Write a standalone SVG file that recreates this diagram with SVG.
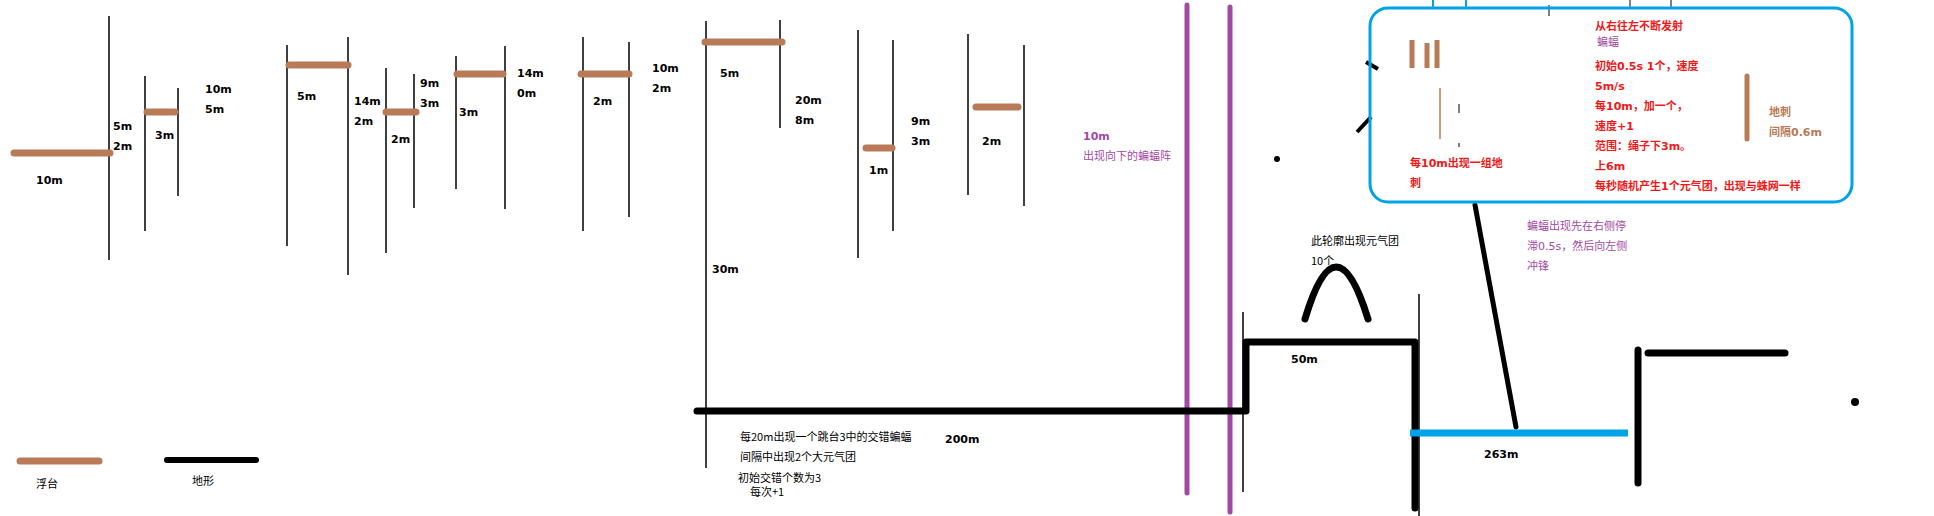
<svg xmlns="http://www.w3.org/2000/svg" width="1934" height="516" viewBox="0 0 1934 516">
<style>
.bg{fill:#fff}
.v{stroke:#000;stroke-width:1.5;fill:none}
.plat{stroke:#B97A57;stroke-width:7;stroke-linecap:round;fill:none}
.terr{stroke:#000;stroke-width:7;stroke-linecap:round;stroke-linejoin:round;fill:none}
.bat{stroke:#A349A4;stroke-width:5;stroke-linecap:round;fill:none}
.lb{font-family:"DejaVu Sans","Noto Sans CJK SC",sans-serif;font-size:11px;font-weight:bold;fill:#000}
.cn{font-family:"Noto Sans CJK SC",sans-serif;font-size:11px;fill:#000}
.red{font-family:"DejaVu Sans","Noto Sans CJK SC",sans-serif;font-size:11px;font-weight:bold;fill:#F01818}
.pur{font-family:"DejaVu Sans","Noto Sans CJK SC",sans-serif;font-size:11px;fill:#A349A4}
.pb{font-family:"DejaVu Sans","Noto Sans CJK SC",sans-serif;font-size:11px;font-weight:bold;fill:#A349A4}
.brn{font-family:"DejaVu Sans","Noto Sans CJK SC",sans-serif;font-size:11px;font-weight:bold;fill:#B97A57}
</style>
<rect class="bg" x="0" y="0" width="1934" height="516"/>

<g id="connectors">
<line class="v" x1="109" y1="16" x2="109" y2="260"/>
<line class="v" x1="145" y1="76" x2="145" y2="231"/>
<line class="v" x1="178" y1="88" x2="178" y2="196"/>
<line class="v" x1="287" y1="45" x2="287" y2="246"/>
<line class="v" x1="348" y1="37" x2="348" y2="275"/>
<line class="v" x1="386" y1="68" x2="386" y2="253"/>
<line class="v" x1="414" y1="74" x2="414" y2="208"/>
<line class="v" x1="456" y1="56" x2="456" y2="189"/>
<line class="v" x1="505" y1="46" x2="505" y2="209"/>
<line class="v" x1="583" y1="37" x2="583" y2="231"/>
<line class="v" x1="629" y1="42" x2="629" y2="217"/>
<line class="v" x1="706" y1="21" x2="706" y2="468"/>
<line class="v" x1="780" y1="20" x2="780" y2="128"/>
<line class="v" x1="858" y1="30" x2="858" y2="258"/>
<line class="v" x1="893" y1="40" x2="893" y2="231"/>
<line class="v" x1="968" y1="34" x2="968" y2="195"/>
<line class="v" x1="1024" y1="45" x2="1024" y2="206"/>
<line class="v" x1="1243" y1="312" x2="1243" y2="492"/>
<line class="v" x1="1419" y1="294" x2="1419" y2="516"/>
<line x1="1366" y1="62" x2="1378" y2="69" stroke="#000" stroke-width="4"/>
<line x1="1357" y1="132" x2="1371" y2="117" stroke="#000" stroke-width="4"/>
<line x1="1475" y1="205" x2="1516" y2="427" stroke="#000" stroke-width="5" stroke-linecap="round"/>
<line x1="1433" y1="0" x2="1433" y2="8" stroke="#00A2E8" stroke-width="2"/>
<line x1="1466" y1="0" x2="1466" y2="8" stroke="#00A2E8" stroke-width="2"/>
<line x1="1549" y1="5" x2="1549" y2="16" stroke="#000" stroke-width="1"/>
<line x1="1630" y1="0" x2="1630" y2="7" stroke="#000" stroke-width="1"/>
<line x1="1671" y1="0" x2="1671" y2="7" stroke="#000" stroke-width="1"/>
</g>

<g id="platforms">
<line class="plat" x1="14" y1="153" x2="110" y2="153"/>
<line class="plat" x1="147" y1="112" x2="175" y2="112"/>
<line class="plat" x1="289" y1="65" x2="348" y2="65"/>
<line class="plat" x1="386" y1="112" x2="416" y2="112"/>
<line class="plat" x1="457" y1="74" x2="503" y2="74"/>
<line class="plat" x1="581" y1="74" x2="629" y2="74"/>
<line class="plat" x1="705" y1="42" x2="782" y2="42"/>
<line class="plat" x1="866" y1="148" x2="892" y2="148"/>
<line class="plat" x1="976" y1="107" x2="1018" y2="107"/>
</g>

<g id="labels">
<text class="lb" x="36" y="184">10m</text>
<text class="lb" x="113" y="130">5m</text>
<text class="lb" x="113" y="150">2m</text>
<text class="lb" x="155" y="139">3m</text>
<text class="lb" x="205" y="93">10m</text>
<text class="lb" x="205" y="113">5m</text>
<text class="lb" x="297" y="100">5m</text>
<text class="lb" x="354" y="105">14m</text>
<text class="lb" x="354" y="125">2m</text>
<text class="lb" x="391" y="143">2m</text>
<text class="lb" x="420" y="87">9m</text>
<text class="lb" x="420" y="107">3m</text>
<text class="lb" x="459" y="116">3m</text>
<text class="lb" x="517" y="77">14m</text>
<text class="lb" x="517" y="97">0m</text>
<text class="lb" x="593" y="105">2m</text>
<text class="lb" x="652" y="72">10m</text>
<text class="lb" x="652" y="92">2m</text>
<text class="lb" x="720" y="77">5m</text>
<text class="lb" x="795" y="104">20m</text>
<text class="lb" x="795" y="124">8m</text>
<text class="lb" x="869" y="174">1m</text>
<text class="lb" x="911" y="125">9m</text>
<text class="lb" x="911" y="145">3m</text>
<text class="lb" x="982" y="145">2m</text>
<text class="lb" x="712" y="273">30m</text>
<text class="lb" x="945" y="443">200m</text>
<text class="lb" x="1291" y="363">50m</text>
<text class="lb" x="1484" y="458">263m</text>
</g>

<g id="bat-wall">
<line class="bat" x1="1187" y1="5" x2="1187" y2="493"/>
<line class="bat" x1="1230" y1="7" x2="1230" y2="512"/>
<text class="pb" x="1083" y="140">10m</text>
<text class="pur" x="1083" y="160">出现向下的蝙蝠阵</text>
</g>

<g id="terrain">
<path class="terr" d="M697,411 H1246 V342 H1415 V508"/>
<line class="terr" x1="1638" y1="350" x2="1638" y2="483"/>
<line class="terr" x1="1648" y1="353" x2="1785" y2="353"/>
<path class="terr" d="M1305,319 Q1336,215 1368,319"/>
<circle cx="1277" cy="159" r="3" fill="#000"/>
<circle cx="1855" cy="402" r="4" fill="#000"/>
</g>

<g id="rope">
<line x1="1410" y1="433" x2="1628" y2="433" stroke="#00A2E8" stroke-width="7"/>
</g>

<g id="ground-notes">
<text class="cn" x="740" y="441">每20m出现一个跳台3中的交错蝙蝠</text>
<text class="cn" x="740" y="461">间隔中出现2个大元气团</text>
<text class="cn" x="738" y="482">初始交错个数为3</text>
<text class="cn" x="750" y="496">每次+1</text>
<text class="cn" x="1311" y="245">此轮廓出现元气团</text>
<text class="cn" x="1311" y="265">10个</text>
</g>

<g id="info-box">
<rect x="1370" y="8" width="482" height="194" rx="18" ry="18" fill="none" stroke="#00A2E8" stroke-width="3"/>
<line x1="1412" y1="40" x2="1412" y2="68" stroke="#B97A57" stroke-width="5"/>
<line x1="1427" y1="43" x2="1427" y2="68" stroke="#B97A57" stroke-width="5"/>
<line x1="1437" y1="40" x2="1437" y2="68" stroke="#B97A57" stroke-width="5"/>
<line x1="1440" y1="88" x2="1440" y2="139" stroke="#B97A57" stroke-width="1.5"/>
<line x1="1459" y1="104" x2="1459" y2="113" stroke="#000" stroke-width="1"/>
<line x1="1459" y1="143" x2="1459" y2="147" stroke="#000" stroke-width="1"/>
<line x1="1747" y1="76" x2="1747" y2="139" stroke="#B97A57" stroke-width="5" stroke-linecap="round"/>
<text class="red" x="1410" y="167">每10m出现一组地</text>
<text class="red" x="1410" y="187">刺</text>
<text class="red" x="1595" y="30">从右往左不断发射</text>
<text class="pur" x="1597" y="46">蝙蝠</text>
<text class="red" x="1595" y="70">初始0.5s 1个，速度</text>
<text class="red" x="1595" y="90">5m/s</text>
<text class="red" x="1595" y="110">每10m，加一个，</text>
<text class="red" x="1595" y="130">速度+1</text>
<text class="red" x="1595" y="150">范围：绳子下3m。</text>
<text class="red" x="1595" y="170">上6m</text>
<text class="red" x="1595" y="190">每秒随机产生1个元气团，出现与蛛网一样</text>
<text class="brn" x="1769" y="116">地刺</text>
<text class="brn" x="1769" y="136">间隔0.6m</text>
</g>

<g id="bat-note">
<text class="pur" x="1527" y="230">蝙蝠出现先在右侧停</text>
<text class="pur" x="1527" y="250">滞0.5s，然后向左侧</text>
<text class="pur" x="1527" y="270">冲锋</text>
</g>

<g id="legend">
<line class="plat" x1="20" y1="461" x2="99" y2="461"/>
<line x1="167" y1="460" x2="256" y2="460" stroke="#000" stroke-width="6" stroke-linecap="round"/>
<text class="cn" x="36" y="488">浮台</text>
<text class="cn" x="192" y="485">地形</text>
</g>
</svg>
